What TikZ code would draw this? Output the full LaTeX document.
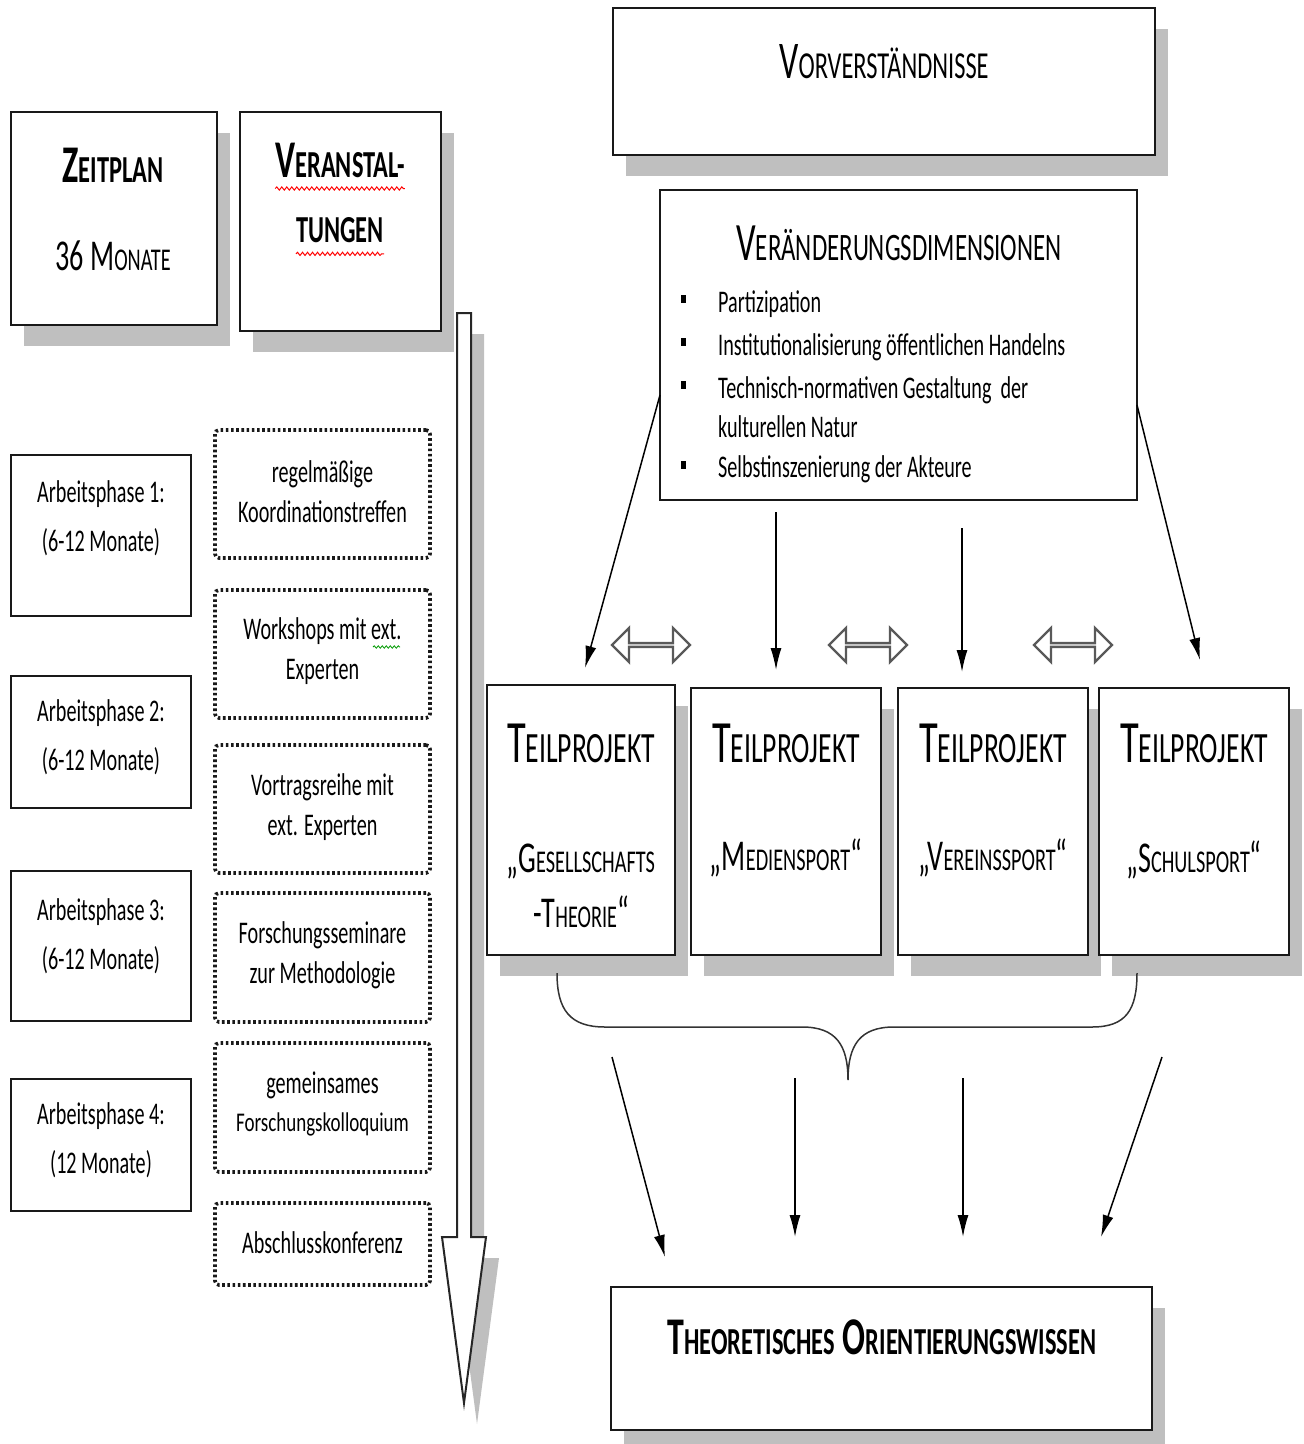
\documentclass[tikz,border=0pt]{standalone}
\usepackage{fontspec}
\setmainfont{Carlito}[FakeStretch=0.64]
\usepackage{graphicx}
\usetikzlibrary{shapes.arrows,shadows,arrows.meta,decorations.pathmorphing}
\newcommand\fsc[2]{#1\scalebox{0.72}{#2}}
\newcommand\fsz[2]{\fontsize{#1}{#2}\selectfont}
\begin{document}
\begin{tikzpicture}[x=1pt,y=-1pt,
  box/.style={draw=black!90, line width=2pt, fill=white, inner sep=0pt},
  shbox/.style={box, drop shadow={shadow xshift=13pt, shadow yshift=-21pt, fill=black!25, opacity=1}},
  dotbox/.style={draw=black!90, line width=3.6pt, dash pattern=on 2.6pt off 2.6pt, rounded corners=4pt, inner sep=0pt},
  txt/.style={inner sep=0pt, align=center, font=\fsz{31.5}{40}},
  aptxt/.style={txt, font=\fsz{31.5}{49}},
  listtxt/.style={inner sep=0pt, anchor=base west, font=\fsz{31.5}{40}},
  tptitle/.style={inner sep=0pt, font=\fsz{60}{60}},
  tpsub/.style={inner sep=0pt, align=center, font=\fsz{44}{55}},
  conn/.style={line width=1.5pt, -{Latex[length=22pt, width=11pt]}},
  dblarrow/.style={double arrow, draw=black!65, line width=2.4pt, fill=white, minimum height=78pt, minimum width=34pt, double arrow head extend=10pt, inner sep=0pt},
  wavy/.style={decorate, decoration={snake, amplitude=1.6pt, segment length=5pt}, line width=1pt},
  bullet/.style={fill=black, inner sep=0pt, minimum width=5pt, minimum height=8pt}
]
\useasboundingbox (0,0) rectangle (1304,1444);

% ---------- left column header boxes
\node[shbox, minimum width=206pt, minimum height=213pt] (zeit) at (114,218.5) {};
\node[inner sep=0pt, font=\bfseries\fsz{53}{53}] (zeitT) at (113,165) {\fsc{Z}{EITPLAN}};
\node[inner sep=0pt, font=\fsz{44}{44}] (zeitM) at (113,256) {36 \fsc{M}{ONATE}};

\node[shbox, minimum width=201pt, minimum height=219pt] (vera) at (340.5,221.5) {};
\node[inner sep=0pt, font=\bfseries\fsz{53}{53}] (veraA) at (340,160) {\fsc{V}{ERANSTAL-}};
\node[inner sep=0pt, font=\bfseries\fsz{53}{53}] (veraB) at (340,230) {\fsc{}{TUNGEN}};
\draw[wavy, red] ([yshift=-11pt]veraA.south west) -- ([yshift=-11pt]veraA.south east);
\draw[wavy, red] ([yshift=-11pt]veraB.south west) -- ([yshift=-11pt]veraB.south east);

% ---------- big timeline arrow
\fill[black!25, shift={(13,21)}] (457,313) -- (471,313) -- (471,1237) -- (486,1237) -- (464,1403) -- (442,1237) -- (457,1237) -- cycle;
\draw[fill=white, line width=2pt, draw=black!85] (457,313) -- (471,313) -- (471,1237) -- (486,1237) -- (464,1403) -- (442,1237) -- (457,1237) -- cycle;

% ---------- Arbeitsphasen
\node[box, minimum width=180pt, minimum height=161pt] (ap1) at (101,535.5) {};
\node[aptxt] (ap1t) at (101,518.5) {Arbeitsphase 1:\\(6-12 Monate)};
\node[box, minimum width=180pt, minimum height=132pt] (ap2) at (101,742) {};
\node[aptxt] (ap2t) at (101,737.5) {Arbeitsphase 2:\\(6-12 Monate)};
\node[box, minimum width=180pt, minimum height=150pt] (ap3) at (101,946) {};
\node[aptxt] (ap3t) at (101,936.5) {Arbeitsphase 3:\\(6-12 Monate)};
\node[box, minimum width=180pt, minimum height=132pt] (ap4) at (101,1145) {};
\node[aptxt] (ap4t) at (101,1140.5) {Arbeitsphase 4:\\(12 Monate)};

% ---------- Veranstaltungen (dotted)
\node[dotbox, minimum width=215pt, minimum height=128pt] (d1) at (322.5,494) {};
\node[txt] (d1t) at (322.5,492) {regelmäßige\\Koordinationstreffen};
\node[dotbox, minimum width=215pt, minimum height=128pt] (d2) at (322.5,654) {};
\node[txt] (d2t) at (322.5,651.5) {Workshops mit ext.\\Experten};
\draw[wavy, green!60!black, line width=0.8pt, decoration={amplitude=1.2pt, segment length=4pt}] (373,647) -- (400,647);
\node[dotbox, minimum width=215pt, minimum height=128pt] (d3) at (322.5,809) {};
\node[txt] (d3t) at (322.5,807) {Vortragsreihe mit\\ext. Experten};
\node[dotbox, minimum width=215pt, minimum height=129pt] (d4) at (322.5,957.5) {};
\node[txt] (d4t) at (322.5,955) {Forschungsseminare\\zur Methodologie};
\node[dotbox, minimum width=215pt, minimum height=129pt] (d5) at (322.5,1107.5) {};
\node[txt] (d5a) at (322.5,1085) {gemeinsames};
\node[inner sep=0pt, font=\fsz{27}{27}] (d5b) at (322.5,1124) {\scalebox{1.1}[1]{Forschungskolloquium}};
\node[dotbox, minimum width=215pt, minimum height=82pt] (d6) at (322.5,1244) {};
\node[txt] (d6t) at (322.5,1243) {Abschlusskonferenz};

% ---------- right side
\node[shbox, minimum width=542pt, minimum height=147pt] (vorv) at (884,81.5) {};
\node[inner sep=0pt, font=\fsz{53}{53}] (vorvT) at (884,62) {\fsc{V}{ORVERSTÄNDNISSE}};

\node[box, minimum width=477pt, minimum height=310pt] (vdim) at (898.5,345) {};
\node[inner sep=0pt, font=\fsz{54}{54}] (vdimT) at (899,243) {\fsc{V}{ERÄNDERUNGSDIMENSIONEN}};
\node[listtxt] (l1) at (718,312) {Partizipation};
\node[listtxt] (l2) at (718,355) {Institutionalisierung öffentlichen Handelns};
\node[listtxt] (l3) at (718,398) {Technisch-normativen Gestaltung\ \ der};
\node[listtxt] (l4) at (718,437) {kulturellen Natur};
\node[listtxt] (l5) at (718,477) {Selbstinszenierung der Akteure};
\node[bullet] (b1) at (683,299) {};
\node[bullet] (b2) at (683,342) {};
\node[bullet] (b3) at (683,385) {};
\node[bullet] (b5) at (683,465) {};

% Teilprojekte
\node[shbox, minimum width=188pt, minimum height=270pt] (tp1) at (581,820) {};
\node[shbox, minimum width=190pt, minimum height=267pt] (tp2) at (786,821.5) {};
\node[shbox, minimum width=190pt, minimum height=267pt] (tp3) at (993,821.5) {};
\node[shbox, minimum width=190pt, minimum height=267pt] (tp4) at (1194,821.5) {};
\node[tptitle] (tp1T) at (581,743) {\fsc{T}{EILPROJEKT}};
\node[tptitle] (tp2T) at (786,743) {\fsc{T}{EILPROJEKT}};
\node[tptitle] (tp3T) at (993,743) {\fsc{T}{EILPROJEKT}};
\node[tptitle] (tp4T) at (1194,743) {\fsc{T}{EILPROJEKT}};
\node[tpsub] (tp1S) at (581,885.5) {„\fsc{G}{ESELLSCHAFTS}\\-\fsc{T}{HEORIE}“};
\node[tpsub] (tp2S) at (786,858) {„\fsc{M}{EDIENSPORT}“};
\node[tpsub] (tp3S) at (993,858) {„\fsc{V}{EREINSSPORT}“};
\node[tpsub] (tp4S) at (1194,860) {„\fsc{S}{CHULSPORT}“};

% double arrows between Teilprojekte
\node[dblarrow] (da1) at (651,645) {};
\node[dblarrow] (da2) at (868,645) {};
\node[dblarrow] (da3) at (1073,645) {};

% arrows from Veraenderungsdimensionen
\coordinate (c1s) at (660,395); \coordinate (c1e) at (585,668);
\coordinate (c2s) at (776,512); \coordinate (c2e) at (776,670);
\coordinate (c3s) at (962,528); \coordinate (c3e) at (962,672);
\coordinate (c4s) at (1137,405); \coordinate (c4e) at (1200,660);
\draw[conn] (c1s) -- (c1e);
\draw[conn] (c2s) -- (c2e);
\draw[conn] (c3s) -- (c3e);
\draw[conn] (c4s) -- (c4e);

% brace
\draw[line width=1.5pt, black!80] (557,973) .. controls (557,1010) and (570,1027) .. (605,1027) -- (802,1027) .. controls (836,1027) and (848,1045) .. (848,1080) .. controls (848,1045) and (860,1027) .. (894,1027) -- (1092,1027) .. controls (1126,1027) and (1137,1010) .. (1137,973);

% Theoretisches Orientierungswissen
\node[shbox, minimum width=541pt, minimum height=143pt] (theo) at (881.5,1358.5) {};
\node[inner sep=0pt, font=\bfseries\fsz{53}{53}] (theoT) at (882,1337) {\fsc{T}{HEORETISCHES} \fsc{O}{RIENTIERUNGSWISSEN}};

\coordinate (e1s) at (612,1057); \coordinate (e1e) at (665,1257);
\coordinate (e2s) at (795,1078); \coordinate (e2e) at (795,1237);
\coordinate (e3s) at (963,1078); \coordinate (e3e) at (963,1237);
\coordinate (e4s) at (1162,1057); \coordinate (e4e) at (1101,1237);
\draw[conn] (e1s) -- (e1e);
\draw[conn] (e2s) -- (e2e);
\draw[conn] (e3s) -- (e3e);
\draw[conn] (e4s) -- (e4e);
\end{tikzpicture}
\end{document}
